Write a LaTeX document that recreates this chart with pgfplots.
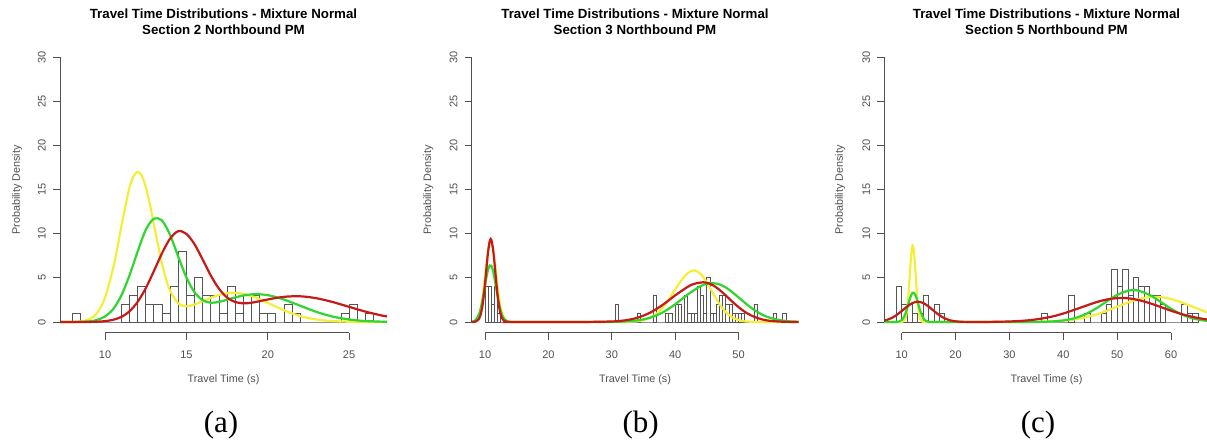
\documentclass[border=0pt]{standalone}
\usepackage{fontspec}
\setmainfont{Liberation Sans}
\newfontfamily\capfont{Liberation Serif}
\usepackage{pgfplots}
\pgfplotsset{compat=1.18}
\definecolor{ycol}{RGB}{245,238,55}
\definecolor{gcol}{RGB}{45,215,45}
\definecolor{rcol}{RGB}{200,25,25}
\definecolor{barcol}{RGB}{85,85,85}
\definecolor{axgray}{RGB}{80,80,80}
\pgfplotsset{
  rstyle/.style={
    scale only axis, width=327pt, height=286.1pt, anchor=south west,
    ymin=-1.2, ymax=31.2,
    axis x line*=bottom, axis y line*=left,
    axis line style={draw=none},
    ytick={0,5,10,15,20,25,30},
    tick align=outside, major tick length=7pt,
    tick style={axgray, line width=0.8pt},
    /pgf/number format/assume math mode=true,
    ticklabel style={font=\fontsize{11}{13}\selectfont, text=axgray, inner sep=0pt},
    yticklabel style={rotate=90, anchor=south},
    xticklabel style={anchor=north},
    xticklabel shift=11pt, yticklabel shift=7pt,
    clip=false, no markers,
  },
  curve/.style={line width=2.2pt, smooth, tension=0.5},
  hist/.style={ybar interval, draw=barcol, line width=0.8pt, fill=none},
}
\begin{document}
\begin{tikzpicture}[x=1pt,y=1pt]
\useasboundingbox (0,0) rectangle (1207,445);
% ---------------- (a)
\begin{axis}[rstyle, at={(60pt,112.4pt)}, xmin=7.23, xmax=27.33, xtick={10,15,20,25}]
\addplot[hist] coordinates {(8,1) (8.5,0) (11,2) (11.5,3) (12,4) (12.5,2) (13,2) (13.5,1) (14,4) (14.5,8) (15,3) (15.5,5) (16,3) (16.5,3) (17,1) (17.5,4) (18,1) (18.5,3) (19,3) (19.5,1) (20,1) (20.5,0) (21,2) (21.5,1) (22,0) (24.5,1) (25,2) (25.5,0) (26,1) (26.5,0)};
\addplot[curve, ycol] coordinates {(7.23,0) (8,0.01) (8.5,0.07) (9,0.29) (9.5,1.0) (10,2.77) (10.5,6.12) (10.75,8.33) (11,10.8) (11.25,13.1) (11.5,15.2) (11.75,16.5) (12,17.0) (12.25,16.6) (12.5,15.3) (12.75,13.37) (13,11.07) (13.25,8.76) (13.5,6.61) (13.75,4.86) (14,3.53) (14.5,2.10) (15,1.78) (15.5,1.98) (16,2.36) (16.5,2.74) (17,3.06) (17.5,3.25) (18,3.30) (18.5,3.19) (19,2.94) (19.5,2.59) (20,2.17) (20.5,1.74) (21,1.33) (21.5,0.97) (22,0.67) (22.5,0.45) (23,0.28) (23.5,0.17) (24,0.10) (25,0.03) (26,0.01) (27.33,0)};
\addplot[curve, gcol] coordinates {(7.23,0) (8,0) (9,0.07) (9.5,0.23) (10,0.63) (10.5,1.47) (11,3.0) (11.5,5.27) (12,7.97) (12.5,10.43) (13,11.7) (13.5,11.5) (14,9.84) (14.5,7.39) (15,5.05) (15.5,3.36) (16,2.47) (16.5,2.18) (17,2.28) (17.5,2.52) (18,2.79) (18.5,3.0) (19,3.13) (19.5,3.14) (20,3.04) (20.5,2.83) (21,2.54) (21.5,2.20) (22,1.84) (22.5,1.48) (23,1.14) (23.5,0.85) (24,0.61) (24.5,0.43) (25,0.29) (25.5,0.18) (26,0.11) (26.5,0.07) (27,0.04) (27.33,0.03)};
\addplot[curve, rcol] coordinates {(7.23,0) (9,0.01) (9.5,0.03) (10,0.10) (10.5,0.25) (11,0.58) (11.5,1.21) (12,2.27) (12.5,3.82) (13,5.76) (13.5,7.79) (14,9.45) (14.5,10.29) (15,9.98) (15.5,8.80) (16,7.07) (16.5,5.26) (17,3.77) (17.5,2.77) (18,2.27) (18.5,2.11) (19,2.18) (19.5,2.36) (20,2.55) (20.5,2.72) (21,2.85) (21.5,2.91) (22,2.91) (22.5,2.83) (23,2.69) (23.5,2.49) (24,2.26) (24.5,1.99) (25,1.72) (25.5,1.44) (26,1.18) (26.5,0.95) (27,0.74) (27.33,0.63)};
\draw[axgray, line width=0.8pt] (axis cs:10,-1.2) -- (axis cs:25,-1.2);
\draw[axgray, line width=0.8pt] (axis cs:7.23,0) -- (axis cs:7.23,30);
\end{axis}
% ---------------- (b)
\begin{axis}[rstyle, at={(471.7pt,112.4pt)}, xmin=7.9, xmax=59.5, xtick={10,20,30,40,50}]
\addplot[hist] coordinates {(10,4) (10.5,4) (11,2) (11.5,4) (12,1) (12.5,0) (30.5,2) (31,0) (34,1) (34.5,0) (36.5,3) (37,0) (38.5,1) (39,1) (39.5,0) (40,2) (40.5,2) (41,0) (41.5,3) (42,1) (42.5,1) (43,1) (43.5,4) (44,3) (44.5,1) (45,5) (45.5,1) (46,1) (46.5,2) (47,3) (47.5,3) (48,2) (48.5,2) (49,1) (49.5,1) (50,1) (50.5,1) (51,0) (52.5,2) (53,0) (55.5,1) (56,0) (57,1) (57.5,0)};
\addplot[curve, ycol] coordinates {(7.9,0) (8,0.03) (8.5,0.17) (9,0.74) (9.25,1.37) (9.5,2.32) (9.75,3.60) (10,5.14) (10.25,6.72) (10.5,8.06) (10.75,8.86) (11,8.94) (11.25,8.27) (11.5,7.01) (11.75,5.46) (12,3.90) (12.25,2.55) (12.5,1.53) (12.75,0.84) (13,0.43) (13.5,0.08) (14,0.01) (15,0) (20,0) (25,0) (30,0) (32,0.01) (34,0.09) (35,0.21) (36,0.46) (37,0.90) (38,1.59) (39,2.55) (40,3.66) (41,4.75) (42,5.55) (43,5.85) (44,5.48) (45,4.49) (46,3.23) (47,2.03) (48,1.12) (49,0.54) (50,0.23) (51,0.08) (52,0.03) (53,0.01) (54,0) (59.5,0)};
\addplot[curve, gcol] coordinates {(7.9,0.01) (8,0.04) (8.5,0.21) (9,0.78) (9.25,1.33) (9.5,2.09) (9.75,3.06) (10,4.13) (10.25,5.17) (10.5,5.98) (10.75,6.41) (11,6.36) (11.25,5.84) (11.5,4.97) (11.75,3.91) (12,2.85) (12.25,1.92) (12.5,1.20) (12.75,0.69) (13,0.37) (13.5,0.09) (14,0.01) (15,0) (20,0) (25,0) (30,0.01) (32,0.06) (34,0.18) (36,0.48) (38,1.07) (40,2.0) (42,3.12) (44,4.06) (45,4.32) (45.9,4.4) (47,4.26) (48,3.91) (49,3.39) (50,2.79) (51,2.18) (52,1.61) (53,1.13) (54,0.74) (55,0.47) (56,0.28) (57,0.16) (58,0.08) (59.5,0.03)};
\addplot[curve, rcol] coordinates {(7.9,0) (8.5,0.04) (9,0.29) (9.25,0.68) (9.5,1.42) (9.75,2.63) (10,4.30) (10.25,6.25) (10.5,8.06) (10.75,9.20) (10.9,9.4) (11,9.31) (11.25,8.35) (11.5,6.64) (11.75,4.68) (12,2.93) (12.25,1.62) (12.5,0.80) (12.75,0.35) (13,0.13) (13.5,0.01) (14,0) (20,0) (25,0) (30,0.06) (32,0.18) (34,0.47) (36,1.04) (38,1.92) (40,3.01) (42,3.99) (43,4.32) (44.4,4.5) (45,4.45) (46,4.15) (47,3.64) (48,3.0) (49,2.32) (50,1.69) (51,1.15) (52,0.74) (53,0.45) (54,0.25) (55,0.13) (56,0.07) (57,0.03) (58,0.01) (59.5,0)};
\draw[axgray, line width=0.8pt] (axis cs:10,-1.2) -- (axis cs:50,-1.2);
\draw[axgray, line width=0.8pt] (axis cs:7.9,0) -- (axis cs:7.9,30);
\end{axis}
% ---------------- (c)
\begin{axis}[rstyle, at={(884.3pt,112.4pt)}, xmin=6.77, xmax=67.47, xtick={10,20,30,40,50,60}]
\addplot[hist] coordinates {(9,4) (10,2) (11,2) (12,1) (13,1) (14,3) (15,0) (16,2) (17,1) (18,0) (36,1) (37,0) (41,3) (42,0) (44,1) (45,0) (47,1) (48,2) (49,6) (50,4) (51,6) (52,3) (53,5) (54,4) (55,4) (56,3) (57,3) (58,2) (59,0) (62,2) (63,1) (64,1) (65,0)};
\addplot[curve, ycol] coordinates {(6.77,0) (9.5,0) (10,0.01) (10.5,0.16) (10.75,0.53) (11,1.41) (11.25,3.02) (11.5,5.28) (11.75,7.50) (12,8.66) (12.25,8.14) (12.5,6.23) (12.75,3.87) (13,1.96) (13.25,0.81) (13.5,0.27) (14,0.02) (14.5,0) (20,0) (30,0) (35,0.02) (38,0.07) (40,0.15) (42,0.29) (44,0.51) (46,0.83) (48,1.25) (50,1.73) (52,2.21) (54,2.60) (56,2.82) (58,2.82) (60,2.60) (62,2.21) (64,1.73) (66,1.25) (67.47,0.93)};
\addplot[curve, gcol] coordinates {(6.77,0) (8,0) (9,0.01) (9.5,0.05) (10,0.22) (10.5,0.67) (11,1.53) (11.5,2.61) (12,3.31) (12.5,3.12) (13,2.19) (13.5,1.14) (14,0.44) (14.5,0.13) (15,0.03) (16,0) (20,0) (30,0) (34,0.01) (36,0.02) (38,0.07) (40,0.18) (42,0.42) (44,0.85) (46,1.50) (48,2.31) (50,3.07) (52,3.54) (53,3.6) (54,3.54) (56,3.07) (58,2.31) (60,1.50) (62,0.85) (64,0.42) (66,0.18) (67.47,0.09)};
\addplot[curve, rcol] coordinates {(6.77,0.16) (8,0.41) (9,0.77) (10,1.24) (11,1.75) (12,2.15) (13,2.3) (14,2.15) (15,1.75) (16,1.24) (17,0.77) (18,0.41) (19,0.19) (20,0.08) (21,0.03) (22,0.01) (24,0) (26,0.01) (28,0.03) (30,0.06) (32,0.12) (34,0.22) (36,0.39) (38,0.63) (40,0.96) (42,1.37) (44,1.80) (46,2.22) (48,2.54) (50,2.70) (52,2.69) (54,2.48) (56,2.14) (58,1.72) (60,1.28) (62,0.89) (64,0.58) (66,0.35) (67.47,0.23)};
\draw[axgray, line width=0.8pt] (axis cs:10,-1.2) -- (axis cs:60,-1.2);
\draw[axgray, line width=0.8pt] (axis cs:6.77,0) -- (axis cs:6.77,30);
\end{axis}
% ---------------- texts
\foreach \cx/\sec in {223.5/2, 635/3, 1046.5/5}{
  \node[font=\bfseries\fontsize{13.3}{16}\selectfont, align=center] at (\cx,423.5) {Travel Time Distributions - Mixture Normal\\Section \sec{} Northbound PM};
  \node[font=\fontsize{10.8}{13}\selectfont, text=axgray] at (\cx,65) {Travel Time (s)};
}
\foreach \lx in {17, 428.3, 840}{
  \node[rotate=90, font=\fontsize{10.8}{13}\selectfont, text=axgray] at (\lx,255) {Probability Density};
}
\node[font=\capfont\fontsize{31}{36}\selectfont] at (221,20) {(a)};
\node[font=\capfont\fontsize{31}{36}\selectfont] at (640.7,20) {(b)};
\node[font=\capfont\fontsize{31}{36}\selectfont] at (1038,20) {(c)};
\end{tikzpicture}
\end{document}
